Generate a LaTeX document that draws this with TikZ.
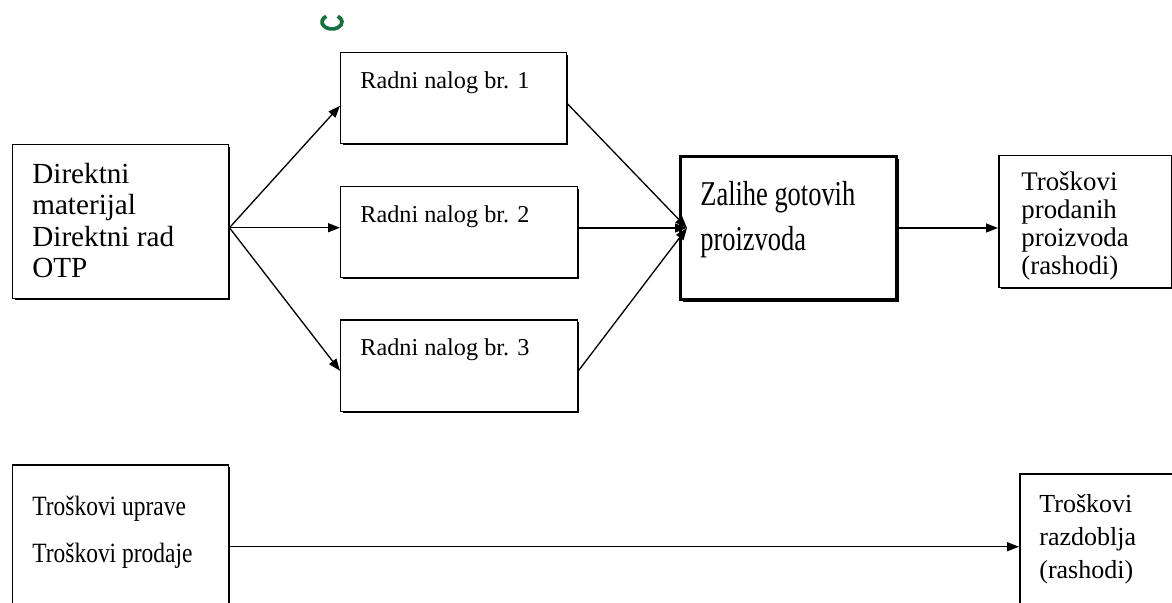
\documentclass[tikz,border=0pt]{standalone}
\usepackage{fontspec}
\setmainfont{Liberation Serif}
\usetikzlibrary{arrows.meta}
\usetikzlibrary{shadows}

\definecolor{markgreen}{RGB}{22,112,62}

\tikzset{
  box/.style={draw, fill=white, line width=0.85pt, anchor=north west, inner sep=0pt,
    drop shadow={shadow xshift=1pt, shadow yshift=-1pt, opacity=1, fill=black}},
  bigbox/.style={draw, fill=white, line width=1.7pt, anchor=north west, inner sep=0pt,
    drop shadow={shadow xshift=1.2pt, shadow yshift=-1.6pt, opacity=1, fill=black}},
  txt/.style={anchor=north west, inner sep=0pt, align=left},
  flow/.style={line width=0.75pt, -{Triangle[length=0.24cm, width=0.18cm]}}
}
\newcommand{\narrow}[2][0.76]{\scalebox{#1}[1]{#2}}

\begin{document}
\begin{tikzpicture}[x=0.02cm, y=-0.02cm]
    \useasboundingbox (0,0) rectangle (1172,602);

    % green mark at the top
    \draw[markgreen, line width=2.1pt] (332,22) ++(125:0.2cm and 0.14cm)
      arc[start angle=125, end angle=415, x radius=0.2cm, y radius=0.14cm];

    \node[box, minimum width=4.32cm, minimum height=3.08cm,
      label={[txt, xshift=0.4cm, yshift=-0.37cm, font=\fontsize{16.6}{18}\selectfont]north west:Direktni\\materijal\\Direktni rad\\OTP}] (dm) at (12,144) {};

    \node[box, minimum width=4.52cm, minimum height=1.82cm,
      label={[txt, xshift=0.4cm, yshift=-0.38cm, font=\fontsize{13.8}{16}\selectfont]north west:Radni nalog br. 1}] (r1) at (340,52) {};
    \node[box, minimum width=4.74cm, minimum height=1.82cm,
      label={[txt, xshift=0.4cm, yshift=-0.38cm, font=\fontsize{13.8}{16}\selectfont]north west:Radni nalog br. 2}] (r2) at (340,186) {};
    \node[box, minimum width=4.74cm, minimum height=1.84cm,
      label={[txt, xshift=0.4cm, yshift=-0.38cm, font=\fontsize{13.8}{16}\selectfont]north west:Radni nalog br. 3}] (r3) at (340,319) {};

    \node[bigbox, minimum width=4.32cm, minimum height=2.86cm,
      label={[txt, xshift=0.42cm, yshift=-0.52cm, font=\fontsize{19.8}{25.5}\selectfont]north west:\narrow{Zalihe gotovih}\\\narrow{proizvoda}}] (zg) at (679,155) {};

    \node[box, minimum width=3.46cm, minimum height=2.64cm,
      label={[txt, xshift=0.46cm, yshift=-0.33cm, font=\fontsize{15.3}{15.9}\selectfont]north west:Troškovi\\prodanih\\proizvoda\\(rashodi)}] (tp) at (998,155) {};

    \node[box, minimum width=4.32cm, minimum height=3.28cm,
      label={[txt, xshift=0.4cm, yshift=-0.64cm, font=\fontsize{15.9}{26.6}\selectfont]north west:\narrow[0.84]{Troškovi uprave}\\\narrow[0.84]{Troškovi prodaje}}] (tu) at (12,464) {};

    \node[box, minimum width=3.3cm, minimum height=3.4cm,
      label={[txt, xshift=0.4cm, yshift=-0.43cm, font=\fontsize{14.8}{18.7}\selectfont]north west:Troškovi\\razdoblja\\(rashodi)}] (tr) at (1019,473) {};

    \coordinate (fork) at ([yshift=-0.12cm]dm.east);
    \coordinate (merge) at ([xshift=0.16cm]zg.west);

    \draw[flow] (fork) -- ([yshift=-0.15cm]r1.west);
    \draw[flow] (fork) -- (fork -| r2.west);
    \draw[flow] (fork) -- ([yshift=-0.1cm]r3.west);

    \draw[flow] ([yshift=-0.11cm]r1.east) -- (merge);
    \draw[flow] (merge -| r2.east) -- (merge);
    \draw[flow] ([yshift=-0.1cm]r3.east) -- (merge);

    \draw[flow] (zg.east) -- (zg.east -| tp.west);
    \draw[flow] (tu.east) -- (tu.east -| tr.west);
\end{tikzpicture}
\end{document}
